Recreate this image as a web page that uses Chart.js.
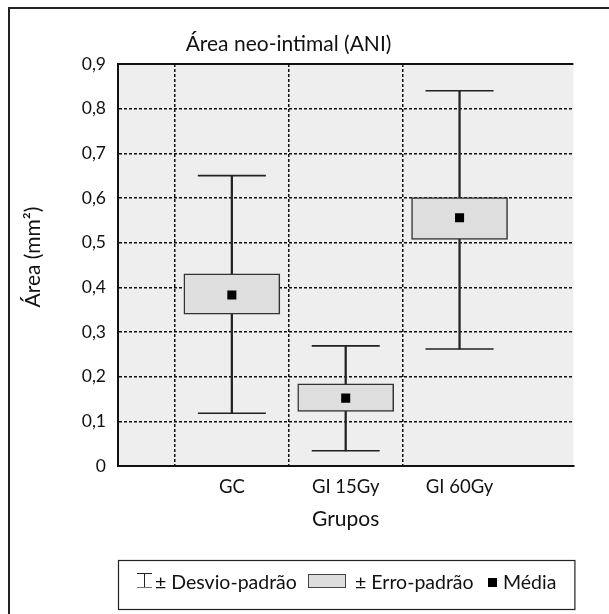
<!DOCTYPE html>
<html>
<head>
<meta charset="utf-8">
<script src="https://cdn.jsdelivr.net/npm/chart.js@4.4.0/dist/chart.umd.min.js"></script>
<style>
  html, body { margin: 0; padding: 0; background: #ffffff; }
  #wrap { position: relative; width: 609px; height: 614px; }
</style>
</head>
<body>
<div id="wrap"><canvas id="c" width="609" height="614"></canvas></div>
<script>
// ---- data ----
const categories = ['GC', 'GI 15Gy', 'GI 60Gy'];
const means  = [0.383, 0.152, 0.556];
const seLow  = [0.340, 0.122, 0.507];
const seHigh = [0.430, 0.184, 0.601];
const sdLow  = [0.118, 0.034, 0.262];
const sdHigh = [0.650, 0.269, 0.840];
const yTicks = [0, 0.1, 0.2, 0.3, 0.4, 0.5, 0.6, 0.7, 0.8, 0.9];
const legendLabels = ['± Desvio-padrão', '± Erro-padrão', 'Média'];
const chartTitle = 'Área neo-intimal (ANI)';
const yTitle = 'Área (mm²)';
const xTitle = 'Grupos';

const FONT = 'Lato, "Open Sans", sans-serif';
const xs = categories.map((_, i) => i + 1);
const fmt = v => Math.abs(v) < 1e-9 ? '0' : v.toFixed(1).replace('.', ',');

const framePlugin = {
  id: 'frame',
  beforeDraw(chart) {
    const {ctx, chartArea: a} = chart;
    ctx.save();
    ctx.fillStyle = '#eeeeee';
    ctx.fillRect(a.left, a.top, a.right - a.left, a.bottom - a.top);
    ctx.restore();
  },
  afterDraw(chart) {
    const {ctx, chartArea: a} = chart;
    ctx.save();
    // chart title
    ctx.font = '21px ' + FONT;
    ctx.fillStyle = '#111';
    ctx.textAlign = 'center';
    ctx.textBaseline = 'middle';
    ctx.fillText(chartTitle, 288.5, 44);
    // y axis title
    ctx.save();
    ctx.translate(33, 257);
    ctx.rotate(-Math.PI / 2);
    ctx.font = '21px ' + FONT;
    ctx.fillText(yTitle, 0, 0);
    ctx.restore();
    ctx.textAlign = 'left';
    // plot top border
    ctx.strokeStyle = '#111';
    ctx.lineWidth = 2;
    ctx.beginPath();
    ctx.moveTo(a.left - 1, a.top);
    ctx.lineTo(a.right, a.top);
    ctx.stroke();
    // outer frame (left & top)
    ctx.strokeStyle = '#222';
    ctx.lineWidth = 2;
    ctx.beginPath();
    ctx.moveTo(9, 614);
    ctx.lineTo(9, 8);
    ctx.lineTo(609, 8);
    ctx.stroke();

    // legend box
    const top = 560, bottom = 609, left = a.left, right = a.right + 1;
    ctx.strokeStyle = '#222';
    ctx.lineWidth = 1.2;
    ctx.strokeRect(left + 0.5, top + 0.5, right - left, bottom - top);
    ctx.font = '19.5px ' + FONT;
    ctx.fillStyle = '#111';
    ctx.textBaseline = 'middle';
    const cy = 583;
    // whisker icon
    ctx.strokeStyle = '#222';
    ctx.lineWidth = 1;
    ctx.beginPath();
    ctx.moveTo(137, 573.5); ctx.lineTo(152, 573.5);
    ctx.moveTo(144.5, 573.5); ctx.lineTo(144.5, 587.5);
    ctx.stroke();
    ctx.strokeStyle = '#777';
    ctx.beginPath();
    ctx.moveTo(137, 587.5); ctx.lineTo(152, 587.5);
    ctx.stroke();
    ctx.fillText(legendLabels[0], 155, cy);
    // box swatch
    ctx.fillStyle = '#dddddd';
    ctx.fillRect(308, 574, 37, 13);
    ctx.strokeStyle = '#444';
    ctx.strokeRect(308.5, 574.5, 37, 13);
    ctx.fillStyle = '#111';
    ctx.fillText(legendLabels[1], 355, cy);
    // mean square
    ctx.fillStyle = '#000';
    ctx.fillRect(488, 578, 9, 9);
    ctx.fillStyle = '#111';
    ctx.fillText(legendLabels[2], 503, cy);
    ctx.restore();
  }
};

new Chart(document.getElementById('c'), {
  type: 'bar',
  data: {
    datasets: [
      {
        type: 'scatter',
        label: 'mean',
        data: xs.map((x, i) => ({x, y: means[i]})),
        pointStyle: 'rect',
        pointRadius: 6.4,
        pointBackgroundColor: '#000',
        pointBorderWidth: 0,
        order: 0
      },
      {
        label: 'se',
        data: xs.map((x, i) => ({x, y: [seLow[i], seHigh[i]]})),
        backgroundColor: '#dedede',
        borderColor: '#333',
        borderWidth: 1.5,
        borderSkipped: false,
        barThickness: 96,
        grouped: false,
        order: 1
      },
      {
        label: 'sd',
        data: xs.map((x, i) => ({x, y: [sdLow[i], sdHigh[i]]})),
        backgroundColor: '#222',
        borderWidth: 0,
        barThickness: 1.6,
        grouped: false,
        order: 2
      },
      {
        type: 'scatter',
        label: 'sdHighCap',
        data: xs.map((x, i) => ({x, y: sdHigh[i]})),
        pointStyle: 'line',
        pointRadius: 34,
        pointBorderColor: '#222',
        pointBorderWidth: 1.6,
        order: 2
      },
      {
        type: 'scatter',
        label: 'sdLowCap',
        data: xs.map((x, i) => ({x, y: sdLow[i]})),
        pointStyle: 'line',
        pointRadius: 34,
        pointBorderColor: '#222',
        pointBorderWidth: 1.6,
        order: 2
      }
    ]
  },
  options: {
    responsive: false,
    animation: false,
    events: [],
    layout: { padding: { left: 9, right: 7, top: 64, bottom: 74 } },
    plugins: {
      legend: { display: false },
      tooltip: { enabled: false },
      title: { display: false }
    },
    scales: {
      x: {
        type: 'linear',
        min: 0,
        max: categories.length + 1,
        offset: false,
        afterBuildTicks: s => { s.ticks = [0, ...xs, categories.length + 1].map(v => ({value: v})); },
        afterFit: s => { s.height = 74; },
        ticks: {
          autoSkip: false,
          maxRotation: 0,
          padding: 10,
          color: '#111',
          font: { family: FONT, size: 18.5 },
          callback: v => categories[v - 1] || ''
        },
        grid: {
          drawTicks: false,
          color: c => (c.tick && c.tick.value >= 1 && c.tick.value <= categories.length) ? '#111' : 'rgba(0,0,0,0)',
          lineWidth: 1.5
        },
        border: { display: true, color: '#111', width: 2, dash: [3, 2] },
        title: {
          display: true,
          text: xTitle,
          color: '#111',
          font: { family: FONT, size: 21, lineHeight: 1.2 },
          padding: { top: 0, bottom: 8 }
        }
      },
      y: {
        type: 'linear',
        min: 0,
        max: 0.9,
        afterBuildTicks: s => { s.ticks = yTicks.map(v => ({value: v})); },
        afterFit: s => { s.width = 109; },
        ticks: {
          padding: 12,
          color: '#111',
          font: { family: FONT, size: 17.5 },
          callback: v => fmt(v)
        },
        grid: {
          drawTicks: false,
          color: c => (c.tick && c.tick.value > 0.001 && c.tick.value < 0.899) ? '#111' : 'rgba(0,0,0,0)',
          lineWidth: 1.5
        },
        border: { display: true, color: '#111', width: 2, dash: [3, 2] },
        title: { display: false }
      }
    }
  },
  plugins: [framePlugin]
});
</script>
</body>
</html>
